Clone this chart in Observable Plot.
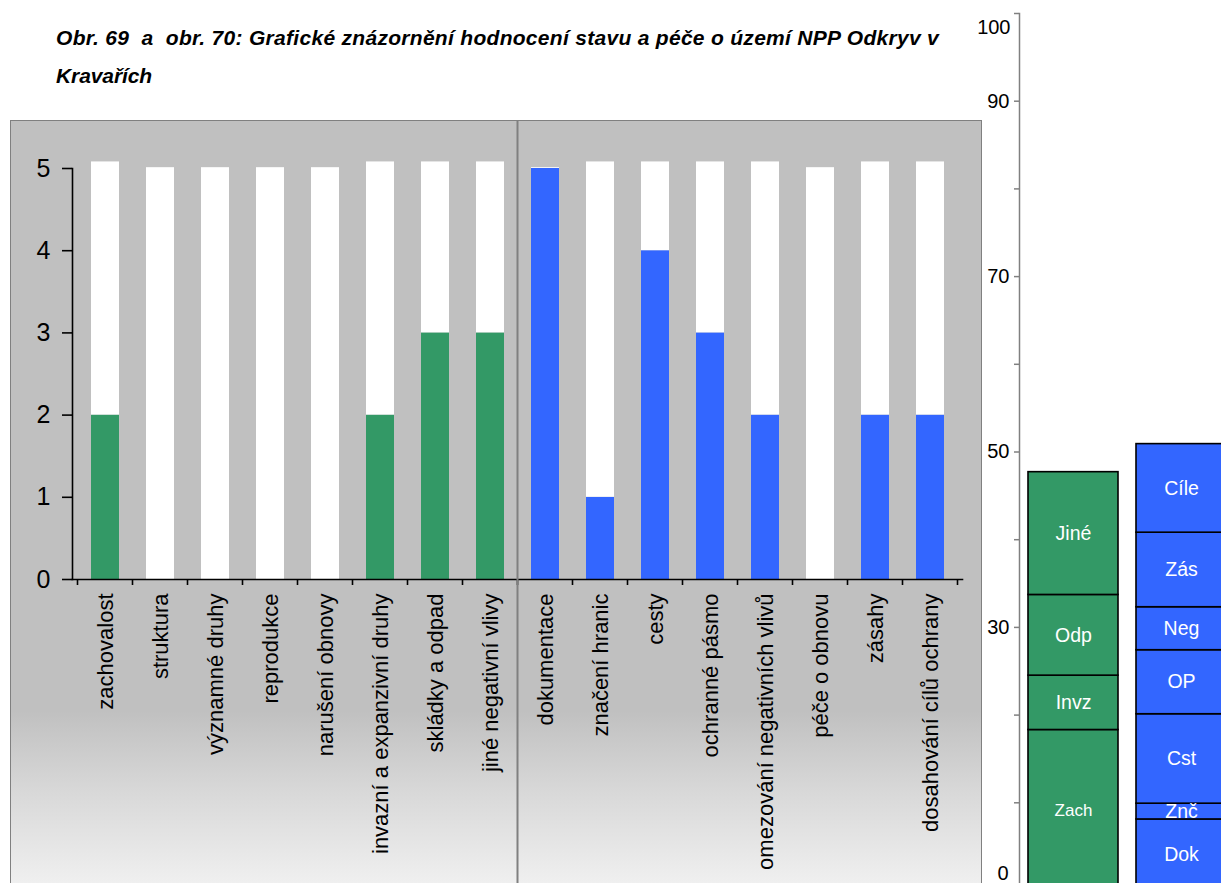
<!DOCTYPE html>
<html>
<head>
<meta charset="utf-8">
<script src="https://cdn.jsdelivr.net/npm/d3@7"></script>
<script src="https://cdn.jsdelivr.net/npm/@observablehq/plot@0.6"></script>
<style>
html, body { margin: 0; padding: 0; background: #fff; }
#root { position: relative; width: 1221px; height: 883px; overflow: hidden; font-family: "Liberation Sans", Arial, sans-serif; }
.title { position: absolute; left: 56px; font-weight: bold; font-style: italic; font-size: 21px; line-height: 21px; white-space: pre; color: #000; }
#panel { position: absolute; left: 10px; top: 120px; width: 970px; height: 800px; border: 1px solid #808080;
  background: linear-gradient(to bottom, #c0c0c0 0px, #c0c0c0 590px, #d8d8d8 670px, #f0f0f0 765px); }
#left { position: absolute; left: 0; top: 0; width: 970px; }
#right { position: absolute; left: 960px; top: 0; width: 300px; }
#root svg { max-width: none !important; }
</style>
</head>
<body>
<div id="root">
  <div class="title" id="t1" style="top:27px">Obr. 69  a  obr. 70: Grafické znázornění hodnocení stavu a péče o území NPP Odkryv v</div>
  <div class="title" id="t2" style="top:65px">Kravařích</div>
  <div id="panel"><div id="left"></div></div>
  <div id="right"></div>
</div>
<script>
// ---- Data: left chart (hodnocení stavu / péče, 0–5) ----
const stavCategories = ["zachovalost", "struktura", "významné druhy", "reprodukce", "narušení obnovy",
  "invazní a expanzivní druhy", "skládky a odpad", "jiné negativní vlivy"];
const stavValues = [2, 0, 0, 0, 0, 2, 3, 3];
const stavTops = [5.08, 5.01, 5.01, 5.01, 5.01, 5.08, 5.08, 5.08];

const peceCategories = ["dokumentace", "značení hranic", "cesty", "ochranné pásmo",
  "omezování negativních vlivů", "péče o obnovu", "zásahy", "dosahování cílů ochrany"];
const peceValues = [5, 1, 4, 3, 2, 0, 2, 2];
const peceTops = [5.01, 5.08, 5.08, 5.08, 5.08, 5.01, 5.08, 5.08];

const yTicksLeft = [0, 1, 2, 3, 4, 5];

// ---- Data: right chart (stacked summary, 0–100) ----
const stackGroups = ["stav", "péče"];
const stavParts = ["Zach", "Invz", "Odp", "Jiné"];
const stavPartValues = [18.3, 6.2, 9.2, 14.0];
const peceParts = ["Dok", "Znč", "Cst", "OP", "Neg", "Zás", "Cíle"];
const pecePartValues = [8.1, 1.8, 10.2, 7.3, 4.9, 8.5, 10.1];
const yTicksRight = [0, 10, 20, 30, 40, 50, 60, 70, 80, 90, 100];
const yLabelsRight = [90, 70, 50, 30];
const yLabelTopRight = [100];
const yLabelBottomRight = [0];

const GREEN = "#339966", BLUE = "#3366ff";
const FONT = '"Liberation Sans", Arial, sans-serif';

// ---- Title fit ----
function fit(id, target) {
  const el = document.getElementById(id);
  const w = el.getBoundingClientRect().width;
  const n = el.textContent.length;
  el.style.letterSpacing = ((target - w) / n) + "px";
}
fit("t1", 883);
fit("t2", 96);

// ---- Left chart ----
const categories = [...stavCategories, ...peceCategories];
const leftRows = [];
stavCategories.forEach((c, i) => {
  leftRows.push({cat: c, group: "stav", part: "hodnota", v: stavValues[i]});
  leftRows.push({cat: c, group: "stav", part: "zbytek", v: stavTops[i] - stavValues[i]});
});
peceCategories.forEach((c, i) => {
  leftRows.push({cat: c, group: "péče", part: "hodnota", v: peceValues[i]});
  leftRows.push({cat: c, group: "péče", part: "zbytek", v: peceTops[i] - peceValues[i]});
});

const left = Plot.plot({
  width: 970, height: 762,
  marginTop: 47, marginBottom: 304, marginLeft: 61, marginRight: 19,
  x: {domain: categories, paddingInner: 0.5, paddingOuter: 0.25, axis: null, label: null},
  y: {domain: [0, 5], axis: null, label: null},
  style: {background: "transparent", fontFamily: FONT, fontSize: "22px", color: "#000", overflow: "visible"},
  marks: [
    Plot.barY(leftRows, Plot.stackY({
      x: "cat", y: "v",
      fill: d => d.part === "zbytek" ? "#ffffff" : (d.group === "stav" ? GREEN : BLUE)
    })),
    Plot.frame({anchor: "left", stroke: "#000", strokeWidth: 1.6}),
    Plot.frame({anchor: "bottom", stroke: "#000", strokeWidth: 1.6}),
    Plot.axisY({ticks: yTicksLeft, tickFormat: () => "", label: null, tickSize: 10, stroke: "#000", strokeWidth: 1.6}),
    Plot.text(yTicksLeft, {y: d => d, text: d => String(d), frameAnchor: "left", textAnchor: "end",
      dx: -22, fontSize: 25, fill: "#000"}),
    Plot.text(categories, {x: d => d, text: d => d, frameAnchor: "bottom", rotate: -90,
      textAnchor: "end", lineAnchor: "middle", dy: 14, fontSize: 22, fill: "#000"})
  ]
});
document.getElementById("left").appendChild(left);

// boundary ticks and divider derived from x scale
{
  const xs = left.scale("x");
  const gap = (xs.step - xs.bandwidth) / 2;
  const ys = left.scale("y");
  const y0 = ys.apply(0);
  const bounds = categories.map(c => xs.apply(c) - gap);
  bounds.push(xs.apply(categories[categories.length - 1]) + xs.bandwidth + gap);
  const g = d3.select(left).append("g");
  g.selectAll("line.bt").data(bounds).join("line")
    .attr("x1", d => d).attr("x2", d => d)
    .attr("y1", y0).attr("y2", y0 + 6)
    .attr("stroke", "#000").attr("stroke-width", 1.6);
  const divX = xs.apply(peceCategories[0]) - gap;
  g.append("line").attr("x1", divX).attr("x2", divX).attr("y1", 0).attr("y2", 800)
    .attr("stroke", "#808080").attr("stroke-width", 2);
}

// ---- Right chart ----
const rightRows = [
  ...stavParts.map((p, i) => ({g: "stav", label: p, v: stavPartValues[i]})),
  ...peceParts.map((p, i) => ({g: "péče", label: p, v: pecePartValues[i]}))
];
const right = Plot.plot({
  width: 300, height: 900,
  marginTop: 13, marginBottom: 10, marginLeft: 59, marginRight: 25,
  x: {domain: stackGroups, paddingInner: 0.1667, paddingOuter: 0.0833, axis: null, label: null},
  y: {domain: [0, 100], axis: null, label: null},
  style: {background: "transparent", fontFamily: FONT, fontSize: "20px", color: "#000", overflow: "visible"},
  marks: [
    Plot.barY(rightRows, Plot.stackY({
      x: "g", y: "v",
      fill: d => d.g === "stav" ? GREEN : BLUE,
      stroke: "#000", strokeWidth: 1.6
    })),
    Plot.text(rightRows, Plot.stackY({
      x: "g", y: "v", text: "label", fill: "#fff",
      fontSize: d => d.label === "Zach" ? 17 : 19.5
    })),
    Plot.frame({anchor: "left", stroke: "#808080", strokeWidth: 1.5}),
    Plot.axisY({ticks: yTicksRight, label: null, tickSize: 5, tickFormat: () => "", stroke: "#808080", strokeWidth: 1.5}),
    Plot.text(yLabelsRight, {y: d => d, text: d => String(d), frameAnchor: "left", textAnchor: "end", dx: -10, fontSize: 20, fill: "#000"}),
    Plot.text(yLabelTopRight, {y: d => d, text: d => String(d), frameAnchor: "left", textAnchor: "end", dx: -9, dy: 14, fontSize: 20, fill: "#000"}),
    Plot.text(yLabelBottomRight, {y: d => d, text: d => String(d), frameAnchor: "left", textAnchor: "end", dx: -11, dy: -17, fontSize: 20, fill: "#000"})
  ]
});
document.getElementById("right").appendChild(right);
</script>
</body>
</html>
